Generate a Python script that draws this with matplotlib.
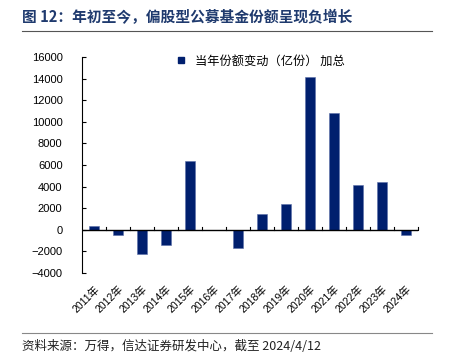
import numpy as np
import matplotlib.pyplot as plt
import matplotlib.transforms as mtransforms
from matplotlib.lines import Line2D

plt.rcParams['font.family'] = ['Liberation Sans', 'Noto Sans CJK SC']

years = ['2011年', '2012年', '2013年', '2014年', '2015年', '2016年', '2017年',
         '2018年', '2019年', '2020年', '2021年', '2022年', '2023年', '2024年']
share_change = [370, -520, -2240, -1410, 6390, 0, -1720,
                1470, 2400, 14190, 10850, 4150, 4400, -520]
yticks = [-4000, -2000, 0, 2000, 4000, 6000, 8000, 10000, 12000, 14000, 16000]

title = '图 12：年初至今，偏股型公募基金份额呈现负增长'
legend_label = '当年份额变动（亿份） 加总'
source = '资料来源：万得，信达证券研发中心，截至 2024/4/12'
bar_color = '#001F6E'

fig = plt.figure(figsize=(4.5, 3.59), dpi=100)
ax = fig.add_axes([82 / 450, 1 - 273 / 359, 336 / 450, 216 / 359])

x = np.arange(len(years))
ax.bar(x, share_change, width=0.42, color=bar_color, edgecolor='#5a6fa8', linewidth=0.4,
       label=legend_label, zorder=2)

ax.set_xlim(-0.5, len(years) - 0.5)
ax.set_ylim(min(yticks), max(yticks))
ax.set_yticks(yticks)
ax.set_yticklabels(['\u2212' + str(-v) if v < 0 else str(v) for v in yticks], fontsize=8)
ax.tick_params(axis='y', direction='in', length=3, width=0.8, pad=14)

ax.set_xticks(x)
ax.set_xticklabels(years, rotation=45, ha='right', rotation_mode='anchor', fontsize=7.5)
ax.tick_params(axis='x', length=0, pad=8)

for side in ['top', 'right', 'bottom']:
    ax.spines[side].set_visible(False)
ax.spines['left'].set_linewidth(0.8)

# zero line with boundary tick marks
ax.axhline(0, color='black', linewidth=1.0, zorder=3)
trans = mtransforms.blended_transform_factory(ax.transData, ax.transAxes)
zero_ax = (0 - min(yticks)) / (max(yticks) - min(yticks))
for b in np.arange(0.5, len(years), 1.0):
    ax.plot([b, b], [zero_ax, zero_ax + 0.014], color='black', linewidth=0.8,
            transform=trans, clip_on=False, zorder=3)

handle = Line2D([], [], marker='s', linestyle='none', color=bar_color, markersize=5)
ax.legend([handle], [legend_label], loc='upper center', bbox_to_anchor=(0.52, 1.035),
          frameon=False, handletextpad=0.1, borderaxespad=0,
          prop={'family': ['Noto Sans CJK SC'], 'size': 8.8})

# header and footer
fig.text(22 / 450, 1 - 17 / 359, title, fontsize=10.6, fontweight='bold', color='#1F3A6E',
         va='center', ha='left', family=['Noto Sans CJK SC'])
fig.add_artist(Line2D([22 / 450, 432 / 450], [1 - 31 / 359] * 2, color='#555555',
                      linewidth=0.8))
fig.add_artist(Line2D([22 / 450, 432 / 450], [1 - 333 / 359] * 2, color='#888888',
                      linewidth=0.8))
fig.text(22 / 450, 1 - 346 / 359, source, fontsize=9, style='italic', color='#222222',
         va='center', ha='left', family=['Noto Sans CJK SC', 'DejaVu Sans'])

fig.savefig('out.png', dpi=100)
